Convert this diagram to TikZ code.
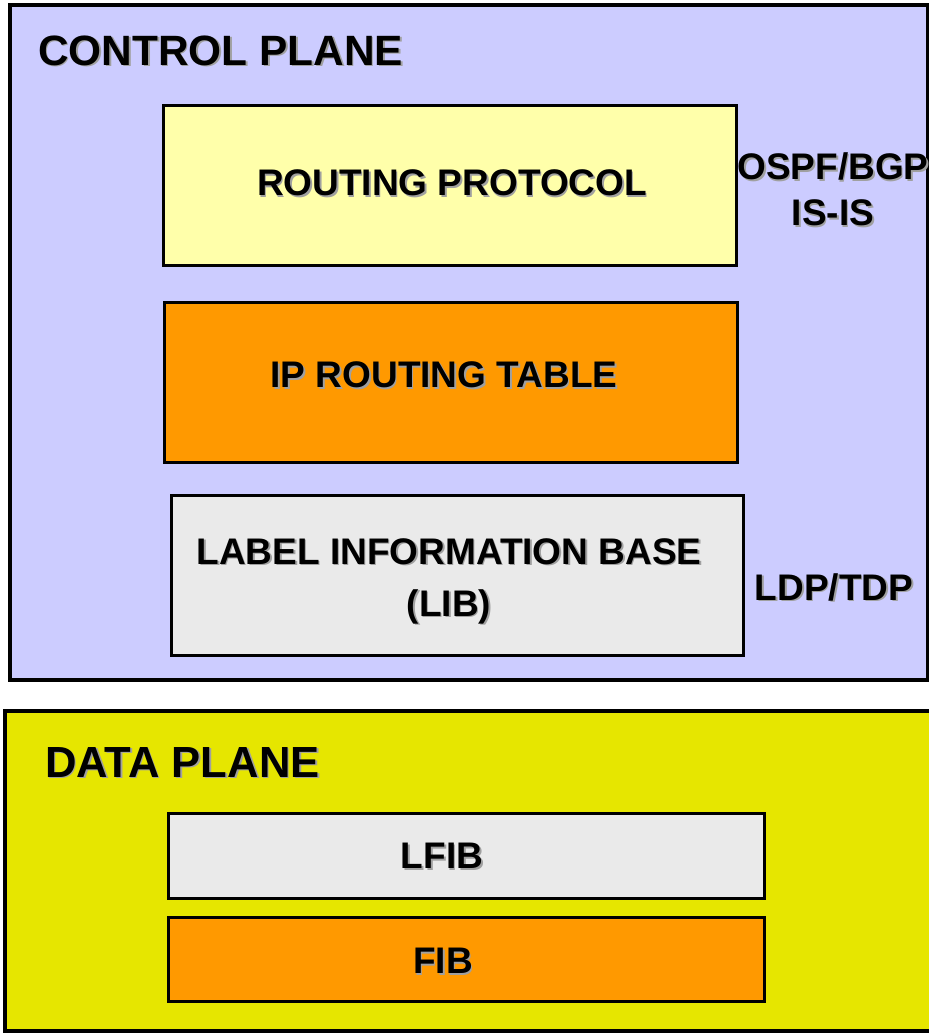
\documentclass[tikz,border=0pt]{standalone}
\usepackage{fontspec}
\setmainfont{Liberation Sans}
\definecolor{ctrlfill}{HTML}{CCCCFF}
\definecolor{datafill}{HTML}{E6E600}
\definecolor{protofill}{HTML}{FFFFAA}
\definecolor{tablefill}{HTML}{FF9900}
\definecolor{basefill}{HTML}{EAEAEA}
\definecolor{shadowgray}{HTML}{A0A0A0}
% bold text with a small grey drop shadow
\newcommand{\shtxt}[1]{\makebox[0pt][l]{\hspace{1.6pt}\raisebox{-1.6pt}{\color{shadowgray}#1}}#1}
\tikzset{
  x=1pt, y=-1pt,
  plane/.style={draw=black, line width=3.2pt},
  layerbox/.style={draw=black, line width=3.4pt},
  ttl/.style={font=\fontsize{42.4}{48}\selectfont\bfseries, anchor=base west, inner sep=0pt},
  lbl/.style={font=\fontsize{37}{52}\selectfont\bfseries, align=center, inner sep=0pt},
}
\begin{document}
\begin{tikzpicture}
\useasboundingbox (0,0) rectangle (929,1034);
% control plane
\draw[plane, fill=ctrlfill] (10,5) rectangle (928,680);
\node[ttl] (cptitle) at (38,65) {\shtxt{CONTROL PLANE}};
\node[layerbox, fill=protofill, minimum width=573pt, minimum height=160pt, anchor=north west] (proto) at (162,104) {};
\node[lbl] (protot) at (452,184) {\shtxt{ROUTING PROTOCOL}};
\node[layerbox, fill=tablefill, minimum width=573pt, minimum height=160pt, anchor=north west] (table) at (163,301) {};
\node[lbl] (tablet) at (444,376) {\shtxt{IP ROUTING TABLE}};
\node[layerbox, fill=basefill, minimum width=572pt, minimum height=160pt, anchor=north west] (lib) at (170,494) {};
\node[lbl] (libt) at (449,582) {\shtxt{LABEL INFORMATION BASE}\\\shtxt{(LIB)}};
\node[lbl] (ospf) at (833,190) {\shtxt{OSPF/BGP}\\[-6pt]\shtxt{IS-IS}};
\node[lbl] (ldp) at (834,588) {\shtxt{LDP/TDP}};
% data plane
\draw[plane, fill=datafill] (5,711) rectangle (932,1031);
\node[ttl, font=\fontsize{43.6}{48}\selectfont\bfseries] (dptitle) at (45,777) {\shtxt{DATA PLANE}};
\node[layerbox, fill=basefill, minimum width=596pt, minimum height=85pt, anchor=north west] (lfib) at (167,812) {};
\node[lbl] (lfibt) at (442,857) {\shtxt{LFIB}};
\node[layerbox, fill=tablefill, minimum width=596pt, minimum height=84pt, anchor=north west] (fib) at (167,916) {};
\node[lbl] (fibt) at (443,962) {\shtxt{FIB}};
\end{tikzpicture}
\end{document}
